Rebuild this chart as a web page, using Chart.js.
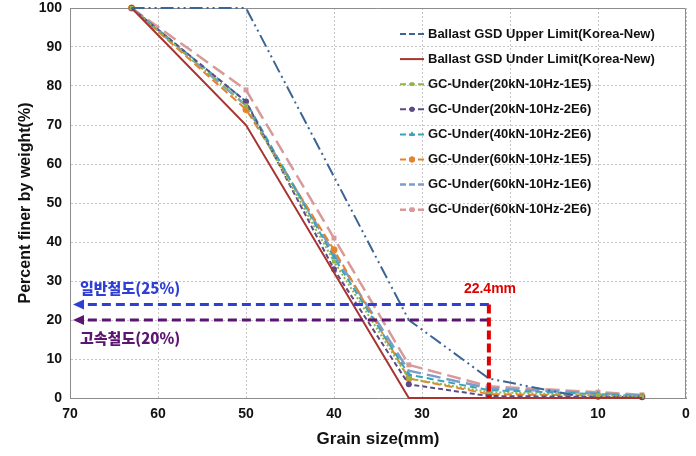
<!DOCTYPE html>
<html>
<head>
<meta charset="utf-8">
<script src="https://cdn.jsdelivr.net/npm/chart.js@4.4.0/dist/chart.umd.min.js"></script>
<style>
  html, body { margin: 0; padding: 0; background: #fff; }
  #wrap { width: 696px; height: 456px; }
</style>
</head>
<body>
<div id="wrap"><canvas id="gsd"></canvas></div>
<script>
// sieve sizes (mm) and percent passing
var limitUpperSizes = [63, 50, 31.5, 22.4, 11.2];
var limitUpper = [100, 100, 20, 5, 0];
var limitUnderSizes = [63, 50, 31.5, 22.4, 5];
var limitUnder = [100, 70, 0, 0, 0];

var sieveSizes = [63, 50, 40, 31.5, 22.4, 10, 5];
var gc20_1e5 = [100, 75, 35, 5, 1.5, 0.7, 0.4];
var gc20_2e6 = [100, 76, 33, 3.5, 0.5, 0.3, 0.2];
var gc40_2e6 = [100, 76, 36, 6, 2, 1, 0.5];
var gc60_1e5 = [100, 74, 38, 5, 1, 0.6, 0.4];
var gc60_1e6 = [100, 75, 37, 7, 2.5, 1.2, 0.6];
var gc60_2e6 = [100, 79, 41, 8.5, 3, 1.5, 0.8];

var seriesNames = [
  'Ballast GSD Upper Limit(Korea-New)',
  'Ballast GSD Under Limit(Korea-New)',
  'GC-Under(20kN-10Hz-1E5)',
  'GC-Under(20kN-10Hz-2E6)',
  'GC-Under(40kN-10Hz-2E6)',
  'GC-Under(60kN-10Hz-1E5)',
  'GC-Under(60kN-10Hz-1E6)',
  'GC-Under(60kN-10Hz-2E6)'
];

var xTicks = [70, 60, 50, 40, 30, 20, 10, 0];
var yTicks = [0, 10, 20, 30, 40, 50, 60, 70, 80, 90, 100];

// guide lines
var cutSize = 22.4;
var cutLabel = '22.4mm';
var guideLevels = [24, 20];
var guideLabels = ['일반철도(25%)', '고속철도(20%)'];
var guideColors = ['#2f3fd6', '#5a1670'];

function pts(xs, ys) {
  return xs.map(function(x, i) { return { x: x, y: ys[i] }; });
}

function series(i, xs, ys, color, dash, width, style, radius) {
  return {
    label: seriesNames[i],
    data: pts(xs, ys),
    borderColor: color,
    backgroundColor: color,
    borderDash: dash,
    borderWidth: width,
    pointStyle: style,
    pointRadius: radius,
    pointBorderWidth: 0,
    tension: 0,
    fill: false,
    clip: 5
  };
}

var datasets = [
  series(0, limitUpperSizes, limitUpper, '#3a6595', [13, 4, 2, 4, 2, 4], 2, 'circle', 0),
  series(1, limitUnderSizes, limitUnder, '#a8332f', [], 2, 'circle', 0),
  series(2, sieveSizes, gc20_1e5, '#93b44f', [2, 2], 2, 'rect', 3),
  series(3, sieveSizes, gc20_2e6, '#5f4a85', [5, 3], 2, 'circle', 3),
  series(4, sieveSizes, gc40_2e6, '#3aa3b8', [7, 4], 2, 'triangle', 3.5),
  series(5, sieveSizes, gc60_1e5, '#e5832f', [8, 4], 2, 'circle', 3.5),
  series(6, sieveSizes, gc60_1e6, '#7c9ccc', [14, 6], 2.5, 'circle', 0),
  series(7, sieveSizes, gc60_2e6, '#d89a98', [14, 6], 2.5, 'rect', 3.5)
];

var guidePlugin = {
  id: 'guides',
  beforeDatasetsDraw: function(chart) {
    // frame top + right
    var ctx = chart.ctx, area = chart.chartArea;
    ctx.save();
    ctx.strokeStyle = '#8c8c8c';
    ctx.lineWidth = 1;
    ctx.beginPath();
    ctx.moveTo(area.left, area.top + 0.5);
    ctx.lineTo(area.right - 0.5, area.top + 0.5);
    ctx.lineTo(area.right - 0.5, area.bottom);
    ctx.stroke();
    ctx.restore();
  },
  afterDatasetsDraw: function(chart) {
    var ctx = chart.ctx, xs = chart.scales.x, ys = chart.scales.y, area = chart.chartArea;
    var xc = xs.getPixelForValue(cutSize);
    ctx.save();
    guideLevels.forEach(function(lv, i) {
      var y = ys.getPixelForValue(lv);
      ctx.strokeStyle = guideColors[i];
      ctx.fillStyle = guideColors[i];
      ctx.lineWidth = 3;
      ctx.setLineDash([9, 5]);
      ctx.beginPath();
      ctx.moveTo(xc, y);
      ctx.lineTo(area.left + 12, y);
      ctx.stroke();
      ctx.setLineDash([]);
      ctx.beginPath();
      ctx.moveTo(area.left + 3, y);
      ctx.lineTo(area.left + 14, y - 5);
      ctx.lineTo(area.left + 14, y + 5);
      ctx.closePath();
      ctx.fill();
      ctx.font = '900 15px "Noto Sans CJK KR", sans-serif';
      ctx.textBaseline = 'middle';
      ctx.textAlign = 'left';
      ctx.fillText(guideLabels[i], area.left + 10, i === 0 ? y - 16 : y + 18);
    });

    ctx.strokeStyle = '#e00000';
    ctx.lineWidth = 4;
    ctx.setLineDash([9, 4]);
    ctx.beginPath();
    ctx.moveTo(xc, ys.getPixelForValue(guideLevels[0]));
    ctx.lineTo(xc, area.bottom);
    ctx.stroke();
    ctx.setLineDash([]);
    ctx.fillStyle = '#e00000';
    ctx.font = 'bold 14px "Liberation Sans", Arial, sans-serif';
    ctx.textAlign = 'left';
    ctx.textBaseline = 'middle';
    ctx.fillText(cutLabel, xc - 25, ys.getPixelForValue(guideLevels[0]) - 15);
    ctx.restore();
  },
  afterDraw: function(chart) {
    // legend inside plot, top right
    var ctx = chart.ctx;
    ctx.save();
    ctx.font = 'bold 13px "Liberation Sans", Arial, sans-serif';
    ctx.textBaseline = 'middle';
    ctx.textAlign = 'left';
    chart.data.datasets.forEach(function(ds, i) {
      var y = 34 + i * 25.1;
      ctx.strokeStyle = ds.borderColor;
      ctx.fillStyle = ds.borderColor;
      ctx.lineWidth = ds.borderWidth;
      ctx.setLineDash(ds.borderDash.length ? [6, 3] : []);
      ctx.beginPath();
      ctx.moveTo(400, y);
      ctx.lineTo(424, y);
      ctx.stroke();
      ctx.setLineDash([]);
      if (ds.pointRadius > 0) {
        Chart.helpers.drawPoint(ctx, { pointStyle: ds.pointStyle, radius: ds.pointRadius - 0.5, borderWidth: 0 }, 412, y);
        ctx.fill();
      }
      ctx.fillStyle = '#111';
      ctx.fillText(ds.label, 428, y);
    });
    ctx.restore();
  }
};

var tickFont = { family: '"Liberation Sans", Arial, sans-serif', size: 14, weight: 'bold' };

new Chart(document.getElementById('gsd'), {
  type: 'line',
  data: { datasets: datasets },
  options: {
    responsive: true,
    maintainAspectRatio: false,
    animation: false,
    layout: { padding: { top: 8, right: 10, left: 0, bottom: 0 } },
    plugins: { legend: { display: false }, tooltip: { enabled: false } },
    scales: {
      x: {
        type: 'linear',
        reverse: true,
        min: 0,
        max: 70,
        afterBuildTicks: function(s) { s.ticks = xTicks.map(function(v) { return { value: v }; }); },
        afterFit: function(s) { s.height = 58; s.paddingLeft = 0; s.paddingRight = 0; },
        ticks: { color: '#111', font: tickFont, padding: 8, maxRotation: 0 },
        grid: { color: '#c4c4c4', drawTicks: false },
        border: { color: '#8c8c8c', dash: [2, 2] },
        title: {
          display: true,
          text: 'Grain size(mm)',
          color: '#111',
          font: { family: '"Liberation Sans", Arial, sans-serif', size: 17, weight: 'bold' },
          padding: { top: 0, bottom: 6 }
        }
      },
      y: {
        min: 0,
        max: 100,
        afterBuildTicks: function(s) { s.ticks = yTicks.map(function(v) { return { value: v }; }); },
        afterFit: function(s) { s.width = 70; s.paddingTop = 0; s.paddingBottom = 0; },
        ticks: { color: '#111', font: tickFont, padding: 8 },
        grid: { color: '#c4c4c4', drawTicks: false },
        border: { color: '#8c8c8c', dash: [2, 2] },
        title: {
          display: true,
          text: 'Percent finer by weight(%)',
          color: '#111',
          font: { family: '"Liberation Sans", Arial, sans-serif', size: 16, weight: 'bold' },
          padding: { top: 16, bottom: 0 }
        }
      }
    }
  },
  plugins: [guidePlugin]
});
</script>
</body>
</html>
